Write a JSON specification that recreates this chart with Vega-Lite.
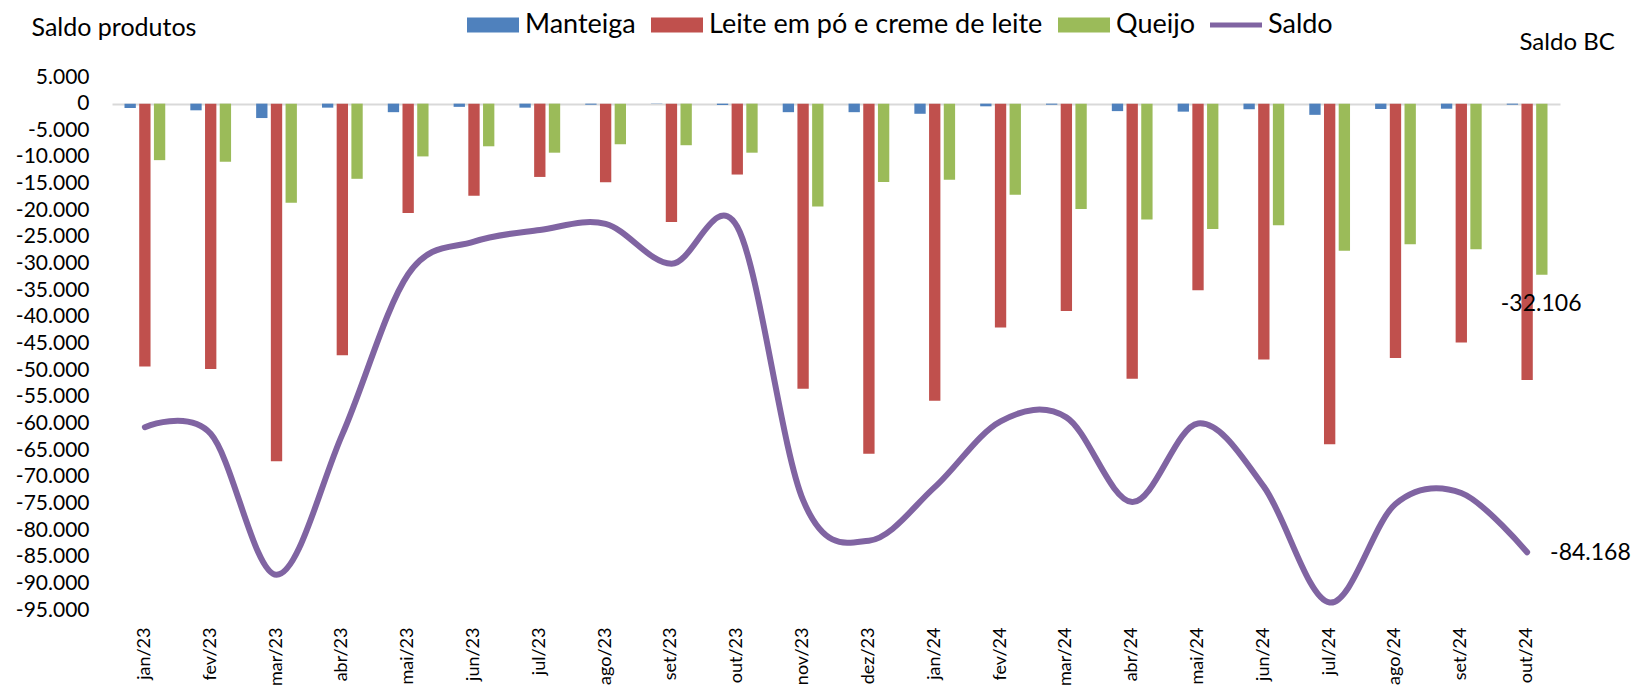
{
  "$schema": "https://vega.github.io/schema/vega-lite/v6.json",
  "width": 1448,
  "height": 533,
  "autosize": {"type": "none"},
  "padding": {"left": 112, "top": 77, "right": 77, "bottom": 76},
  "background": "white",
  "config": {
    "view": {"stroke": null},
    "font": "Lato",
    "locale": {"number": {"decimal": ",", "thousands": ".", "grouping": [3], "currency": ["R$", ""], "minus": "-"}},
    "axis": {"labelFont": "Lato", "titleFont": "Lato", "labelColor": "#000", "titleColor": "#000", "titleFontWeight": "normal", "grid": false, "ticks": false, "domain": false},
    "legend": {"labelFont": "Lato", "labelColor": "#000", "padding": 0, "symbolStrokeWidth": 0, "symbolOpacity": 1, "labelLimit": 0}
  },
  "data": {"values": [
    {"mes": "jan/23", "serie": "Manteiga", "valor": -800}, {"mes": "jan/23", "serie": "Leite em pó e creme de leite", "valor": -49300}, {"mes": "jan/23", "serie": "Queijo", "valor": -10600}, {"mes": "jan/23", "serie": "Saldo", "valor": -60700},
    {"mes": "fev/23", "serie": "Manteiga", "valor": -1250}, {"mes": "fev/23", "serie": "Leite em pó e creme de leite", "valor": -49800}, {"mes": "fev/23", "serie": "Queijo", "valor": -10900}, {"mes": "fev/23", "serie": "Saldo", "valor": -61950},
    {"mes": "mar/23", "serie": "Manteiga", "valor": -2700}, {"mes": "mar/23", "serie": "Leite em pó e creme de leite", "valor": -67100}, {"mes": "mar/23", "serie": "Queijo", "valor": -18600}, {"mes": "mar/23", "serie": "Saldo", "valor": -88400},
    {"mes": "abr/23", "serie": "Manteiga", "valor": -750}, {"mes": "abr/23", "serie": "Leite em pó e creme de leite", "valor": -47200}, {"mes": "abr/23", "serie": "Queijo", "valor": -14100}, {"mes": "abr/23", "serie": "Saldo", "valor": -62050},
    {"mes": "mai/23", "serie": "Manteiga", "valor": -1600}, {"mes": "mai/23", "serie": "Leite em pó e creme de leite", "valor": -20500}, {"mes": "mai/23", "serie": "Queijo", "valor": -9900}, {"mes": "mai/23", "serie": "Saldo", "valor": -32000},
    {"mes": "jun/23", "serie": "Manteiga", "valor": -600}, {"mes": "jun/23", "serie": "Leite em pó e creme de leite", "valor": -17300}, {"mes": "jun/23", "serie": "Queijo", "valor": -8000}, {"mes": "jun/23", "serie": "Saldo", "valor": -25900},
    {"mes": "jul/23", "serie": "Manteiga", "valor": -750}, {"mes": "jul/23", "serie": "Leite em pó e creme de leite", "valor": -13750}, {"mes": "jul/23", "serie": "Queijo", "valor": -9200}, {"mes": "jul/23", "serie": "Saldo", "valor": -23700},
    {"mes": "ago/23", "serie": "Manteiga", "valor": -200}, {"mes": "ago/23", "serie": "Leite em pó e creme de leite", "valor": -14750}, {"mes": "ago/23", "serie": "Queijo", "valor": -7600}, {"mes": "ago/23", "serie": "Saldo", "valor": -22550},
    {"mes": "set/23", "serie": "Manteiga", "valor": -50}, {"mes": "set/23", "serie": "Leite em pó e creme de leite", "valor": -22200}, {"mes": "set/23", "serie": "Queijo", "valor": -7800}, {"mes": "set/23", "serie": "Saldo", "valor": -30050},
    {"mes": "out/23", "serie": "Manteiga", "valor": -250}, {"mes": "out/23", "serie": "Leite em pó e creme de leite", "valor": -13300}, {"mes": "out/23", "serie": "Queijo", "valor": -9200}, {"mes": "out/23", "serie": "Saldo", "valor": -23100},
    {"mes": "nov/23", "serie": "Manteiga", "valor": -1600}, {"mes": "nov/23", "serie": "Leite em pó e creme de leite", "valor": -53500}, {"mes": "nov/23", "serie": "Queijo", "valor": -19300}, {"mes": "nov/23", "serie": "Saldo", "valor": -74400},
    {"mes": "dez/23", "serie": "Manteiga", "valor": -1600}, {"mes": "dez/23", "serie": "Leite em pó e creme de leite", "valor": -65700}, {"mes": "dez/23", "serie": "Queijo", "valor": -14700}, {"mes": "dez/23", "serie": "Saldo", "valor": -82000},
    {"mes": "jan/24", "serie": "Manteiga", "valor": -1900}, {"mes": "jan/24", "serie": "Leite em pó e creme de leite", "valor": -55750}, {"mes": "jan/24", "serie": "Queijo", "valor": -14300}, {"mes": "jan/24", "serie": "Saldo", "valor": -71950},
    {"mes": "fev/24", "serie": "Manteiga", "valor": -500}, {"mes": "fev/24", "serie": "Leite em pó e creme de leite", "valor": -42000}, {"mes": "fev/24", "serie": "Queijo", "valor": -17100}, {"mes": "fev/24", "serie": "Saldo", "valor": -59600},
    {"mes": "mar/24", "serie": "Manteiga", "valor": -200}, {"mes": "mar/24", "serie": "Leite em pó e creme de leite", "valor": -38900}, {"mes": "mar/24", "serie": "Queijo", "valor": -19750}, {"mes": "mar/24", "serie": "Saldo", "valor": -58850},
    {"mes": "abr/24", "serie": "Manteiga", "valor": -1400}, {"mes": "abr/24", "serie": "Leite em pó e creme de leite", "valor": -51600}, {"mes": "abr/24", "serie": "Queijo", "valor": -21750}, {"mes": "abr/24", "serie": "Saldo", "valor": -74750},
    {"mes": "mai/24", "serie": "Manteiga", "valor": -1500}, {"mes": "mai/24", "serie": "Leite em pó e creme de leite", "valor": -35000}, {"mes": "mai/24", "serie": "Queijo", "valor": -23500}, {"mes": "mai/24", "serie": "Saldo", "valor": -60000},
    {"mes": "jun/24", "serie": "Manteiga", "valor": -1050}, {"mes": "jun/24", "serie": "Leite em pó e creme de leite", "valor": -48000}, {"mes": "jun/24", "serie": "Queijo", "valor": -22800}, {"mes": "jun/24", "serie": "Saldo", "valor": -71850},
    {"mes": "jul/24", "serie": "Manteiga", "valor": -2100}, {"mes": "jul/24", "serie": "Leite em pó e creme de leite", "valor": -63900}, {"mes": "jul/24", "serie": "Queijo", "valor": -27600}, {"mes": "jul/24", "serie": "Saldo", "valor": -93600},
    {"mes": "ago/24", "serie": "Manteiga", "valor": -1000}, {"mes": "ago/24", "serie": "Leite em pó e creme de leite", "valor": -47700}, {"mes": "ago/24", "serie": "Queijo", "valor": -26400}, {"mes": "ago/24", "serie": "Saldo", "valor": -75100},
    {"mes": "set/24", "serie": "Manteiga", "valor": -950}, {"mes": "set/24", "serie": "Leite em pó e creme de leite", "valor": -44800}, {"mes": "set/24", "serie": "Queijo", "valor": -27300}, {"mes": "set/24", "serie": "Saldo", "valor": -73050},
    {"mes": "out/24", "serie": "Manteiga", "valor": -200}, {"mes": "out/24", "serie": "Leite em pó e creme de leite", "valor": -51862}, {"mes": "out/24", "serie": "Queijo", "valor": -32106}, {"mes": "out/24", "serie": "Saldo", "valor": -84168}
  ]},
  "encoding": {
    "x": {
      "field": "mes", "type": "nominal", "sort": null,
      "scale": {"paddingInner": 0.381, "paddingOuter": 0.19},
      "axis": {"title": null, "labelAngle": -90, "labelFontSize": 18, "labelPadding": 17}
    }
  },
  "layer": [
    {
      "transform": [{"filter": "datum.serie !== 'Saldo'"}],
      "mark": {"type": "bar"},
      "encoding": {
        "xOffset": {"field": "serie", "type": "nominal", "sort": ["Manteiga", "Leite em pó e creme de leite", "Queijo"], "scale": {"paddingInner": 0.23, "paddingOuter": 0}},
        "y": {
          "field": "valor", "type": "quantitative",
          "scale": {"domain": [-95000, 5000], "nice": false, "zero": false},
          "axis": {
            "orient": "left",
            "values": [5000, 0, -5000, -10000, -15000, -20000, -25000, -30000, -35000, -40000, -45000, -50000, -55000, -60000, -65000, -70000, -75000, -80000, -85000, -90000, -95000],
            "format": ",d", "labelFontSize": 21, "labelPadding": 23,
            "title": "Saldo produtos", "titleAngle": 0, "titleAlign": "left", "titleBaseline": "middle", "titleX": -81, "titleY": -50, "titleFontSize": 25
          }
        },
        "fill": {"field": "serie", "type": "nominal", "scale": {"domain": ["Manteiga", "Leite em pó e creme de leite", "Queijo"], "range": ["#4F81BD", "#C0504D", "#9BBB59"]}, "legend": null}
      }
    },
    {
      "transform": [{"filter": "datum.serie === 'Saldo'"}],
      "mark": {"type": "line", "interpolate": "cardinal", "strokeWidth": 6, "strokeCap": "round", "color": "#8064A2"},
      "encoding": {
        "y": {
          "field": "valor", "type": "quantitative",
          "scale": {"domain": [-95000, 5000], "nice": false, "zero": false},
          "axis": {
            "orient": "right", "values": [0], "labels": false, "grid": true, "gridColor": "#D9D9D9", "gridWidth": 2,
            "title": "Saldo BC", "titleAngle": 0, "titleAlign": "left", "titleBaseline": "middle", "titleX": -41, "titleY": -35, "titleFontSize": 24
          }
        }
      }
    },
    {
      "transform": [{"filter": "datum.serie === 'Saldo'"}],
      "mark": {"type": "point", "filled": true, "opacity": 0},
      "encoding": {
        "y": {"field": "valor", "type": "quantitative", "scale": {"domain": [-95000, 5000], "nice": false, "zero": false}, "axis": null},
        "color": {
          "field": "serie", "type": "nominal",
          "scale": {"domain": ["Manteiga", "Leite em pó e creme de leite", "Queijo", "Saldo"], "range": ["#4F81BD", "#C0504D", "#9BBB59", "#8064A2"]},
          "legend": {"title": null, "orient": "none", "legendX": 355, "legendY": -78, "direction": "horizontal", "symbolSize": 2704, "labelFontSize": 27, "labelOffset": 6, "columnPadding": 15}
        },
        "shape": {
          "field": "serie", "type": "nominal",
          "scale": {"domain": ["Manteiga", "Leite em pó e creme de leite", "Queijo", "Saldo"], "range": ["M-1,-0.29H1V0.29H-1Z", "M-1,-0.29H1V0.29H-1Z", "M-1,-0.29H1V0.29H-1Z", "M-1,-0.1H1V0.1H-1Z"]},
          "legend": {"title": null, "orient": "none", "legendX": 355, "legendY": -78, "direction": "horizontal", "symbolSize": 2704, "labelFontSize": 27, "labelOffset": 6, "columnPadding": 15}
        }
      }
    },
    {
      "transform": [{"filter": "datum.mes === 'out/24' && datum.serie === 'Queijo'"}],
      "mark": {"type": "text", "dx": 14, "dy": 29, "fontSize": 23, "align": "center", "baseline": "middle", "color": "#000"},
      "encoding": {
        "y": {"field": "valor", "type": "quantitative", "scale": {"domain": [-95000, 5000], "nice": false, "zero": false}, "axis": null},
        "text": {"field": "valor", "type": "quantitative", "format": ",d"}
      }
    },
    {
      "transform": [{"filter": "datum.mes === 'out/24' && datum.serie === 'Saldo'"}],
      "mark": {"type": "text", "dx": 23, "dy": 1, "fontSize": 23, "align": "left", "baseline": "middle", "color": "#000"},
      "encoding": {
        "y": {"field": "valor", "type": "quantitative", "scale": {"domain": [-95000, 5000], "nice": false, "zero": false}, "axis": null},
        "text": {"field": "valor", "type": "quantitative", "format": ",d"}
      }
    }
  ],
  "resolve": {"scale": {"y": "independent"}, "axis": {"y": "independent"}}
}
